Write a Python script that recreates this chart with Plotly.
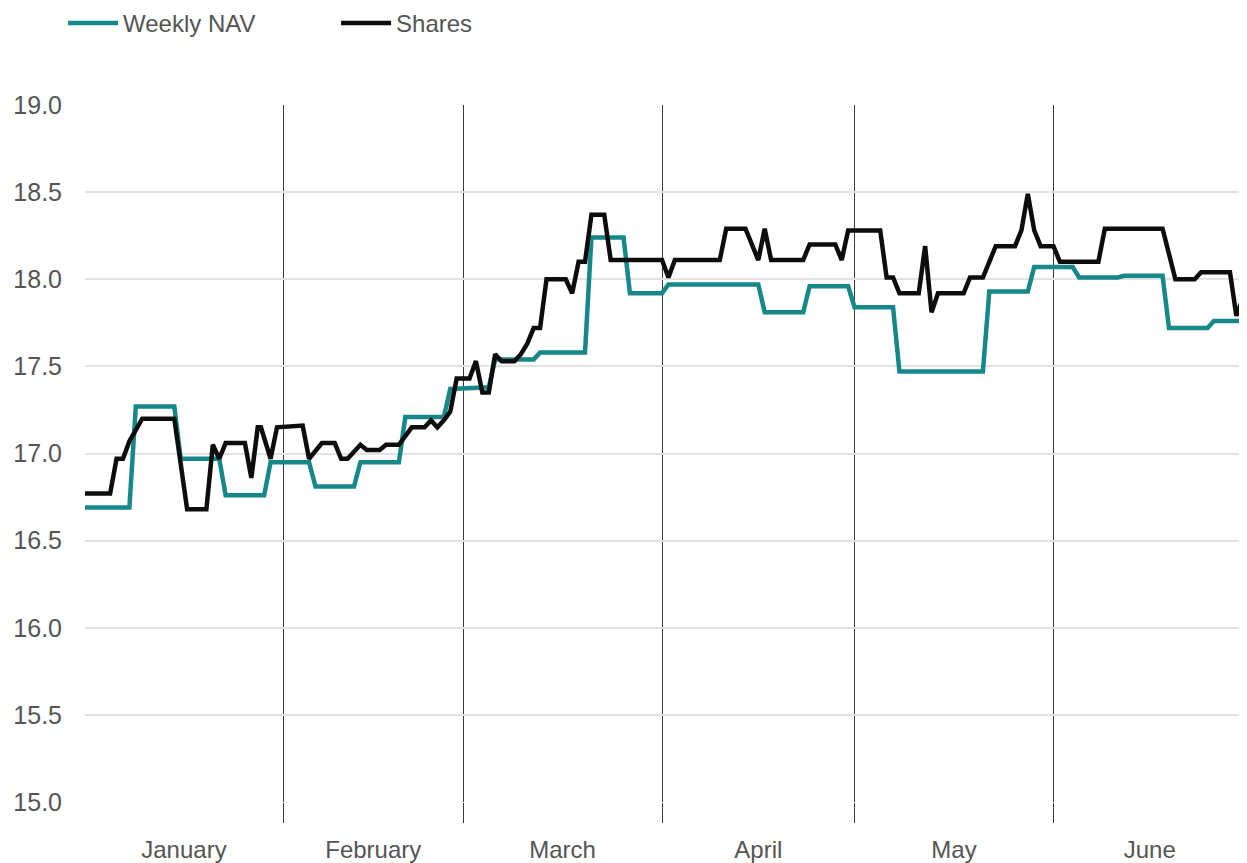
import plotly.graph_objects as go

# ---- data ----
nav_dates = [
    "2019-01-01", "2019-01-08", "2019-01-09", "2019-01-15", "2019-01-16", "2019-01-22",
    "2019-01-23", "2019-01-29", "2019-01-30", "2019-02-05", "2019-02-06", "2019-02-12",
    "2019-02-13", "2019-02-19", "2019-02-20", "2019-02-26", "2019-02-27", "2019-03-05",
    "2019-03-06", "2019-03-12", "2019-03-13", "2019-03-20", "2019-03-21", "2019-03-26",
    "2019-03-27", "2019-04-01", "2019-04-02", "2019-04-16", "2019-04-17", "2019-04-23",
    "2019-04-24", "2019-04-30", "2019-05-01", "2019-05-07", "2019-05-08", "2019-05-21",
    "2019-05-22", "2019-05-28", "2019-05-29", "2019-06-04", "2019-06-05", "2019-06-11",
    "2019-06-12", "2019-06-18", "2019-06-19", "2019-06-25", "2019-06-26", "2019-07-01",
]
nav_values = [
    16.69, 16.69, 17.27, 17.27, 16.97, 16.97,
    16.76, 16.76, 16.95, 16.95, 16.81, 16.81,
    16.95, 16.95, 17.21, 17.21, 17.37, 17.38,
    17.54, 17.54, 17.58, 17.58, 18.24, 18.24,
    17.92, 17.92, 17.97, 17.97, 17.81, 17.81,
    17.96, 17.96, 17.84, 17.84, 17.47, 17.47,
    17.93, 17.93, 18.07, 18.07, 18.01, 18.01,
    18.02, 18.02, 17.72, 17.72, 17.76, 17.76,
]

share_dates = [
    "2019-01-01", "2019-01-05", "2019-01-06", "2019-01-07", "2019-01-08", "2019-01-09",
    "2019-01-10", "2019-01-15", "2019-01-17", "2019-01-20", "2019-01-21", "2019-01-22",
    "2019-01-23", "2019-01-26", "2019-01-27", "2019-01-28", "2019-01-28 12:00", "2019-01-30",
    "2019-01-31", "2019-02-04", "2019-02-05", "2019-02-07", "2019-02-09", "2019-02-10",
    "2019-02-11", "2019-02-13", "2019-02-14", "2019-02-16", "2019-02-17", "2019-02-19",
    "2019-02-21", "2019-02-23", "2019-02-24", "2019-02-25", "2019-02-26", "2019-02-27",
    "2019-02-28", "2019-03-02", "2019-03-03", "2019-03-04", "2019-03-05", "2019-03-06",
    "2019-03-07", "2019-03-09", "2019-03-10", "2019-03-11", "2019-03-12", "2019-03-13",
    "2019-03-14", "2019-03-17", "2019-03-18", "2019-03-19", "2019-03-20", "2019-03-21",
    "2019-03-23", "2019-03-24", "2019-04-01", "2019-04-02", "2019-04-03", "2019-04-10",
    "2019-04-11", "2019-04-14", "2019-04-16", "2019-04-17", "2019-04-18", "2019-04-23",
    "2019-04-24", "2019-04-28", "2019-04-29", "2019-04-30", "2019-05-05", "2019-05-06",
    "2019-05-07", "2019-05-08", "2019-05-11", "2019-05-12", "2019-05-13", "2019-05-14",
    "2019-05-18", "2019-05-19", "2019-05-21", "2019-05-22", "2019-05-23", "2019-05-26",
    "2019-05-27", "2019-05-28", "2019-05-29", "2019-05-30", "2019-06-01", "2019-06-02",
    "2019-06-08", "2019-06-09", "2019-06-18", "2019-06-20", "2019-06-23", "2019-06-24",
    "2019-06-28 12:00", "2019-06-29 12:00", "2019-06-30 12:00",
]
share_values = [
    16.77, 16.77, 16.97, 16.97, 17.07, 17.13,
    17.20, 17.20, 16.68, 16.68, 17.05, 16.97,
    17.06, 17.06, 16.86, 17.15, 17.15, 16.97,
    17.15, 17.16, 16.97, 17.06, 17.06, 16.97,
    16.97, 17.05, 17.02, 17.02, 17.05, 17.05,
    17.15, 17.15, 17.19, 17.15, 17.19, 17.24,
    17.43, 17.43, 17.53, 17.35, 17.35, 17.57,
    17.53, 17.53, 17.57, 17.63, 17.72, 17.72,
    18.00, 18.00, 17.92, 18.10, 18.10, 18.37,
    18.37, 18.11, 18.11, 18.01, 18.11, 18.11,
    18.29, 18.29, 18.11, 18.29, 18.11, 18.11,
    18.20, 18.20, 18.11, 18.28, 18.28, 18.01,
    18.01, 17.92, 17.92, 18.19, 17.81, 17.92,
    17.92, 18.01, 18.01, 18.10, 18.19, 18.19,
    18.28, 18.49, 18.28, 18.19, 18.19, 18.10,
    18.10, 18.29, 18.29, 18.00, 18.00, 18.04,
    18.04, 17.79, 17.89,
]

x_range = ["2019-01-01 02:00", "2019-07-01"]
y_range = [15.0, 19.0]

FONT = "Liberation Sans, Arial, sans-serif"
TEXT_COLOR = "#555555"

fig = go.Figure()
fig.add_trace(go.Scatter(
    x=nav_dates, y=nav_values, name="Weekly NAV", mode="lines",
    line=dict(color="#17888a", width=4.5),
))
fig.add_trace(go.Scatter(
    x=share_dates, y=share_values, name="Shares", mode="lines",
    line=dict(color="#0d0d0d", width=4.5),
))

# The page body has an 8px margin, so the figure is sized/offset to compensate.
fig.update_layout(
    width=1239, height=855,
    margin=dict(l=77, r=1, t=97, b=61, autoexpand=False),
    paper_bgcolor="white", plot_bgcolor="white",
    font=dict(family=FONT, size=24, color=TEXT_COLOR),
    showlegend=True,
    legend=dict(
        orientation="h", x=-0.0189, xanchor="left", y=1.117, yanchor="middle",
        font=dict(family=FONT, size=24, color=TEXT_COLOR),
        itemwidth=50,
        entrywidth=208, entrywidthmode="pixels",
        bgcolor="rgba(0,0,0,0)",
    ),
    xaxis=dict(
        type="date", range=x_range,
        tick0="2019-01-01", dtick="M1", tickformat="%B", ticklabelmode="period",
        showgrid=True, gridcolor="#3a3a3a", gridwidth=1,
        ticks="outside", ticklen=20, tickcolor="#3a3a3a", tickwidth=1,
        ticklabelstandoff=6,
        showline=False, zeroline=False,
        tickfont=dict(family=FONT, size=24, color=TEXT_COLOR),
    ),
    yaxis=dict(
        range=y_range, dtick=0.5, tick0=15, tickformat=".1f",
        showgrid=True, gridcolor="#e2e2e2", gridwidth=1.5,
        zeroline=False, showline=False, ticks="",
        ticklabelstandoff=22,
        tickfont=dict(family=FONT, size=25, color=TEXT_COLOR),
    ),
)

fig.write_html("out.html")
